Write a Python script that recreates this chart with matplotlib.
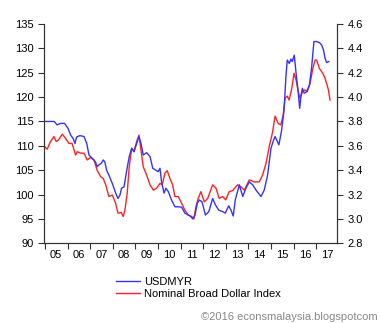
import matplotlib
matplotlib.use("Agg")
import matplotlib.pyplot as plt
from matplotlib.ticker import FixedLocator, NullFormatter, FixedFormatter

# Nominal Broad Dollar Index (left axis)
red_t = [2005.0, 2005.1, 2005.25, 2005.4, 2005.5, 2005.6, 2005.77, 2005.92, 2006.06, 2006.2,
         2006.36, 2006.43, 2006.58, 2006.73, 2006.87, 2007.02, 2007.17, 2007.31, 2007.46, 2007.58,
         2007.69, 2007.83, 2007.98, 2008.13, 2008.23, 2008.38, 2008.46, 2008.54, 2008.64, 2008.73,
         2008.84, 2008.94, 2009.06, 2009.16, 2009.23, 2009.35, 2009.5, 2009.65, 2009.8, 2009.94,
         2010.09, 2010.19, 2010.31, 2010.41, 2010.53, 2010.65, 2010.75, 2010.9, 2011.05, 2011.19,
         2011.34, 2011.49, 2011.59, 2011.68, 2011.78, 2011.9, 2012.05, 2012.2, 2012.42, 2012.57,
         2012.71, 2012.86, 2013.0, 2013.15, 2013.3, 2013.52, 2013.67, 2013.82, 2014.04, 2014.26,
         2014.48, 2014.63, 2014.78, 2014.92, 2015.07, 2015.18, 2015.32, 2015.43, 2015.54, 2015.62,
         2015.72, 2015.8, 2015.92, 2016.02, 2016.11, 2016.21, 2016.28, 2016.4, 2016.5, 2016.6,
         2016.73, 2016.84, 2016.95, 2017.02, 2017.14, 2017.29, 2017.39, 2017.54, 2017.61]
red_v = [109.8, 109.3, 110.9, 111.9, 110.9, 111.2, 112.4, 111.5, 110.5, 110.5,
         108.1, 108.8, 108.5, 108.5, 107.1, 107.6, 107.1, 105.0, 103.7, 103.3,
         102.0, 99.6, 99.9, 98.2, 96.2, 96.3, 95.5, 96.8, 100.3, 105.7,
         109.5, 108.8, 110.9, 112.2, 109.8, 105.7, 104.0, 102.0, 100.9, 101.3,
         102.3, 102.0, 104.4, 104.9, 103.3, 102.0, 99.6, 99.6, 98.2, 96.8,
         95.8, 95.5, 95.0, 97.5, 99.2, 100.6, 98.5, 99.2, 102.0, 101.3,
         99.2, 99.6, 98.9, 100.6, 100.8, 102.0, 101.6, 100.9, 103.0, 102.6,
         102.6, 104.0, 106.4, 109.8, 112.8, 116.1, 114.6, 114.3, 116.3, 119.8,
         120.2, 119.4, 121.8, 124.9, 123.5, 121.1, 119.8, 121.1, 121.5, 121.1,
         122.8, 125.6, 127.6, 127.6, 125.9, 124.9, 123.9, 121.5, 119.4]

# USDMYR (right axis)
blue_t = [2005.0, 2005.41, 2005.54, 2005.69, 2005.87, 2006.02, 2006.14, 2006.25, 2006.33, 2006.4,
          2006.55, 2006.73, 2006.85, 2006.95, 2007.1, 2007.24, 2007.31, 2007.39, 2007.49, 2007.58,
          2007.65, 2007.73, 2007.83, 2007.98, 2008.13, 2008.23, 2008.32, 2008.39, 2008.5, 2008.61,
          2008.73, 2008.84, 2008.94, 2009.06, 2009.16, 2009.25, 2009.35, 2009.5, 2009.65, 2009.77,
          2009.91, 2010.01, 2010.09, 2010.16, 2010.27, 2010.35, 2010.46, 2010.6, 2010.75, 2010.9,
          2011.05, 2011.19, 2011.34, 2011.45, 2011.54, 2011.64, 2011.74, 2011.83, 2011.95, 2012.1,
          2012.25, 2012.42, 2012.54, 2012.69, 2012.86, 2012.98, 2013.13, 2013.23, 2013.33, 2013.42,
          2013.6, 2013.75, 2013.89, 2014.04, 2014.19, 2014.34, 2014.56, 2014.7, 2014.85, 2015.0,
          2015.1, 2015.18, 2015.25, 2015.35, 2015.47, 2015.58, 2015.66, 2015.72, 2015.81, 2015.88,
          2015.94, 2016.03, 2016.11, 2016.2, 2016.27, 2016.33, 2016.39, 2016.47, 2016.58, 2016.7,
          2016.8, 2016.9, 2017.02, 2017.14, 2017.24, 2017.32, 2017.39, 2017.46, 2017.56]
blue_v = [3.80, 3.80, 3.772, 3.784, 3.784, 3.744, 3.688, 3.66, 3.62, 3.672,
          3.684, 3.676, 3.62, 3.524, 3.496, 3.468, 3.428, 3.444, 3.456, 3.484,
          3.468, 3.40, 3.36, 3.292, 3.212, 3.168, 3.196, 3.252, 3.264, 3.388,
          3.512, 3.58, 3.552, 3.62, 3.676, 3.62, 3.524, 3.544, 3.512, 3.416,
          3.40, 3.388, 3.416, 3.304, 3.212, 3.252, 3.224, 3.156, 3.10, 3.10,
          3.096, 3.048, 3.032, 3.02, 3.0, 3.032, 3.128, 3.156, 3.14, 3.032,
          3.06, 3.168, 3.116, 3.072, 3.06, 3.048, 3.108, 3.072, 3.024, 3.156,
          3.28, 3.184, 3.252, 3.304, 3.28, 3.236, 3.184, 3.236, 3.36, 3.58,
          3.64, 3.676, 3.648, 3.608, 3.728, 3.896, 4.168, 4.304, 4.276, 4.312,
          4.292, 4.344, 4.196, 4.044, 3.908, 4.016, 4.072, 4.032, 4.044, 4.10,
          4.248, 4.456, 4.456, 4.448, 4.428, 4.388, 4.32, 4.284, 4.292]

years = list(range(2005, 2019))
year_labels = ["05", "06", "07", "08", "09", "10", "11", "12", "13", "14", "15", "16", "17"]
left_ticks = [90, 95, 100, 105, 110, 115, 120, 125, 130, 135]
right_ticks = [2.8, 3.0, 3.2, 3.4, 3.6, 3.8, 4.0, 4.2, 4.4, 4.6]

plt.rcParams['font.family'] = ['Liberation Sans', 'DejaVu Sans']
fig = plt.figure(figsize=(3.8, 3.23), dpi=100)
ax = fig.add_axes([44/380, 1-243.3/323, (337-44)/380, (243.3-24)/323])
ax2 = ax.twinx()

spine_col = '#333333'
red_line, = ax.plot(red_t, red_v, color='#ff2222', lw=1.0)
blue_line, = ax2.plot(blue_t, blue_v, color='#3333ff', lw=1.0)

ax.set_xlim(2004.96, 2017.92)
ax.set_ylim(90, 135)
ax2.set_ylim(2.8, 4.6)
ax.set_yticks(left_ticks)
ax.set_yticklabels([str(v) for v in left_ticks])
ax2.set_yticks(right_ticks)
ax2.set_yticklabels([f"{v:.1f}" for v in right_ticks])

ax.xaxis.set_major_locator(FixedLocator(years))
ax.xaxis.set_major_formatter(NullFormatter())
ax.xaxis.set_minor_locator(FixedLocator([y + 0.5 for y in years[:-1]]))
ax.xaxis.set_minor_formatter(FixedFormatter(year_labels))
ax.tick_params(axis='x', which='major', length=4, direction='out', color=spine_col)
ax.tick_params(axis='x', which='minor', length=0, labelsize=8, pad=5)
ax.tick_params(axis='y', length=4, direction='out', labelsize=8, color=spine_col)
ax2.tick_params(axis='y', length=4, direction='out', labelsize=8, color=spine_col)

for a in (ax, ax2):
    a.spines['top'].set_visible(False)
    for s in ('left', 'right', 'bottom'):
        a.spines[s].set_color(spine_col)
        a.spines[s].set_linewidth(0.8)

fig.legend([blue_line, red_line], ['USDMYR', 'Nominal Broad Dollar Index'],
           loc='upper left', bbox_to_anchor=(116/380, 1-277/323), frameon=False,
           fontsize=8, handlelength=2.2, handletextpad=0.3, labelspacing=0.15,
           borderpad=0, borderaxespad=0)

fig.text(378/380, 1-317/323, '\u00a92016 econsmalaysia.blogspotcom', ha='right', va='center',
         fontsize=8, color='#888888')

fig.savefig('out.png', dpi=100)
